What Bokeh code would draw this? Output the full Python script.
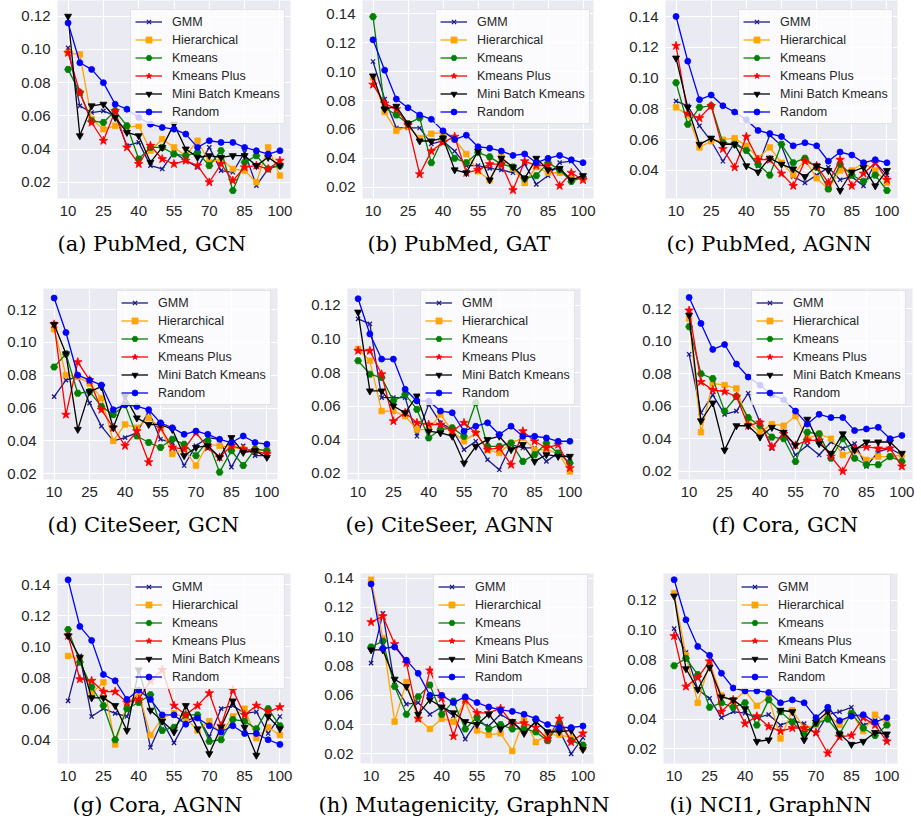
from bokeh.plotting import figure
from bokeh.models import Range1d, FixedTicker, NumeralTickFormatter, Legend, LegendItem
from bokeh.layouts import column, row
from bokeh.embed import file_html
from bokeh.resources import INLINE

# ---------------- data ----------------
X = list(range(10, 101, 5))
X_TICKS = [10, 25, 40, 55, 70, 85, 100]
Y_TICKS = [0.02, 0.04, 0.06, 0.08, 0.10, 0.12, 0.14]
SERIES = ["GMM", "Hierarchical", "Kmeans", "Kmeans Plus", "Mini Batch Kmeans", "Random"]
CAPTIONS = ["(a) PubMed, GCN", "(b) PubMed, GAT", "(c) PubMed, AGNN",
            "(d) CiteSeer, GCN", "(e) CiteSeer, AGNN", "(f) Cora, GCN",
            "(g) Cora, AGNN", "(h) Mutagenicity, GraphNN", "(i) NCI1, GraphNN"]

A_GMM = [0.101,0.066,0.062,0.063,0.060,0.042,0.044,0.030,0.028,0.038,0.033,0.029,0.041,0.027,0.026,0.038,0.018,0.028,0.031]
A_HIER = [0.098,0.097,0.058,0.052,0.054,0.053,0.054,0.039,0.046,0.041,0.036,0.045,0.032,0.034,0.028,0.027,0.020,0.041,0.024]
A_KM = [0.088,0.074,0.057,0.056,0.063,0.054,0.034,0.041,0.041,0.037,0.036,0.038,0.030,0.039,0.015,0.032,0.036,0.028,0.030]
A_KMP = [0.098,0.074,0.056,0.045,0.063,0.041,0.031,0.042,0.034,0.031,0.033,0.030,0.020,0.031,0.021,0.029,0.030,0.028,0.033]
A_MB = [0.120,0.048,0.066,0.067,0.059,0.050,0.048,0.032,0.041,0.055,0.040,0.035,0.036,0.035,0.036,0.036,0.030,0.035,0.030]
A_RND = [0.116,0.092,0.088,0.080,0.067,0.064,0.059,0.055,0.053,0.052,0.049,0.041,0.045,0.044,0.044,0.041,0.039,0.037,0.039]

B_GMM = [0.107,0.081,0.061,0.061,0.061,0.050,0.052,0.045,0.035,0.035,0.033,0.032,0.030,0.036,0.022,0.028,0.037,0.038,0.028]
B_HIER = [0.096,0.072,0.059,0.062,0.054,0.057,0.058,0.053,0.043,0.031,0.025,0.041,0.033,0.023,0.034,0.030,0.030,0.026,0.026]
B_KM = [0.138,0.075,0.070,0.064,0.068,0.037,0.054,0.040,0.037,0.044,0.041,0.036,0.034,0.026,0.028,0.037,0.032,0.024,0.027]
B_KMP = [0.091,0.078,0.074,0.063,0.029,0.045,0.051,0.055,0.030,0.032,0.036,0.036,0.018,0.038,0.035,0.035,0.021,0.030,0.025]
B_MB = [0.097,0.074,0.076,0.064,0.052,0.052,0.054,0.032,0.030,0.045,0.025,0.040,0.034,0.026,0.040,0.032,0.033,0.025,0.028]
B_RND = [0.122,0.101,0.081,0.075,0.070,0.067,0.059,0.053,0.056,0.048,0.047,0.045,0.042,0.043,0.037,0.040,0.042,0.039,0.037]

C_GMM = [0.085,0.082,0.069,0.059,0.046,0.058,0.053,0.043,0.063,0.056,0.036,0.032,0.037,0.042,0.034,0.036,0.030,0.045,0.037]
C_HIER = [0.081,0.076,0.055,0.059,0.060,0.061,0.056,0.048,0.055,0.045,0.037,0.047,0.035,0.028,0.040,0.040,0.045,0.040,0.032]
C_KM = [0.097,0.070,0.081,0.082,0.058,0.057,0.053,0.044,0.037,0.057,0.045,0.048,0.042,0.028,0.044,0.037,0.033,0.037,0.027]
C_KMP = [0.121,0.077,0.074,0.082,0.054,0.042,0.062,0.047,0.047,0.038,0.030,0.046,0.043,0.032,0.047,0.030,0.038,0.045,0.034]
C_MB = [0.113,0.081,0.057,0.061,0.057,0.057,0.043,0.039,0.048,0.044,0.041,0.036,0.043,0.040,0.027,0.039,0.042,0.030,0.040]
C_RND = [0.140,0.111,0.086,0.089,0.082,0.078,0.073,0.066,0.064,0.062,0.056,0.058,0.056,0.046,0.052,0.050,0.045,0.047,0.045]

D_GMM = [0.067,0.077,0.079,0.063,0.049,0.040,0.042,0.045,0.058,0.041,0.039,0.025,0.037,0.042,0.041,0.024,0.037,0.031,0.031]
D_HIER = [0.108,0.080,0.079,0.075,0.066,0.040,0.050,0.048,0.054,0.048,0.032,0.035,0.025,0.038,0.037,0.036,0.035,0.034,0.035]
D_KM = [0.085,0.093,0.069,0.070,0.061,0.056,0.062,0.043,0.039,0.036,0.041,0.038,0.031,0.040,0.021,0.034,0.025,0.035,0.034]
D_KMP = [0.111,0.056,0.088,0.077,0.059,0.048,0.037,0.046,0.027,0.048,0.036,0.035,0.045,0.036,0.030,0.037,0.035,0.034,0.032]
D_MB = [0.111,0.093,0.047,0.070,0.073,0.048,0.067,0.054,0.050,0.050,0.047,0.031,0.036,0.037,0.030,0.042,0.033,0.034,0.030]
D_RND = [0.127,0.106,0.080,0.077,0.074,0.059,0.062,0.061,0.059,0.051,0.048,0.044,0.046,0.044,0.041,0.039,0.043,0.039,0.038]

E_GMM = [0.112,0.109,0.065,0.065,0.065,0.042,0.061,0.050,0.046,0.034,0.039,0.028,0.022,0.037,0.035,0.035,0.027,0.032,0.029]
E_HIER = [0.094,0.087,0.057,0.057,0.054,0.046,0.046,0.055,0.045,0.039,0.044,0.034,0.032,0.038,0.041,0.034,0.034,0.032,0.021]
E_KM = [0.087,0.079,0.077,0.063,0.067,0.058,0.041,0.046,0.047,0.042,0.062,0.036,0.036,0.038,0.027,0.031,0.038,0.032,0.026]
E_KMP = [0.093,0.093,0.079,0.051,0.056,0.050,0.049,0.049,0.045,0.050,0.044,0.034,0.035,0.025,0.045,0.039,0.035,0.037,0.023]
E_MB = [0.116,0.069,0.069,0.060,0.056,0.066,0.045,0.044,0.042,0.026,0.036,0.040,0.042,0.034,0.037,0.027,0.031,0.030,0.030]
E_RND = [0.124,0.103,0.088,0.088,0.070,0.063,0.063,0.057,0.056,0.045,0.048,0.050,0.043,0.048,0.042,0.042,0.041,0.039,0.039]

F_GMM = [0.092,0.056,0.067,0.055,0.057,0.068,0.050,0.034,0.044,0.030,0.036,0.030,0.038,0.034,0.037,0.023,0.032,0.034,0.030]
F_HIER = [0.114,0.044,0.074,0.073,0.071,0.050,0.044,0.049,0.048,0.054,0.040,0.043,0.040,0.030,0.033,0.027,0.029,0.029,0.030]
F_KM = [0.109,0.080,0.077,0.057,0.066,0.053,0.048,0.041,0.040,0.026,0.044,0.043,0.028,0.040,0.028,0.024,0.024,0.029,0.026]
F_KMP = [0.119,0.075,0.070,0.069,0.066,0.048,0.050,0.035,0.043,0.036,0.039,0.039,0.029,0.020,0.034,0.035,0.034,0.034,0.023]
F_MB = [0.116,0.051,0.062,0.033,0.048,0.048,0.041,0.047,0.044,0.036,0.052,0.037,0.031,0.043,0.033,0.038,0.038,0.038,0.031]
F_RND = [0.127,0.111,0.095,0.098,0.086,0.078,0.073,0.067,0.064,0.057,0.049,0.055,0.053,0.053,0.045,0.046,0.047,0.040,0.042]

G_GMM = [0.065,0.094,0.055,0.060,0.057,0.055,0.072,0.035,0.052,0.038,0.052,0.055,0.042,0.060,0.062,0.057,0.058,0.044,0.055]
G_HIER = [0.094,0.092,0.070,0.077,0.037,0.063,0.070,0.043,0.054,0.057,0.054,0.046,0.052,0.044,0.055,0.060,0.041,0.048,0.043]
G_KM = [0.111,0.090,0.074,0.062,0.040,0.060,0.064,0.069,0.046,0.048,0.056,0.056,0.039,0.040,0.053,0.052,0.047,0.060,0.049]
G_KMP = [0.107,0.079,0.078,0.071,0.071,0.064,0.066,0.078,0.085,0.062,0.056,0.062,0.070,0.049,0.072,0.056,0.062,0.058,0.061]
G_MB = [0.107,0.093,0.067,0.067,0.062,0.046,0.085,0.059,0.052,0.045,0.062,0.047,0.031,0.048,0.065,0.048,0.030,0.055,0.047]
G_RND = [0.143,0.113,0.104,0.082,0.078,0.066,0.072,0.066,0.056,0.056,0.050,0.054,0.049,0.045,0.049,0.044,0.044,0.040,0.037]

H_GMM = [0.082,0.116,0.067,0.054,0.055,0.047,0.052,0.046,0.030,0.042,0.039,0.047,0.042,0.035,0.042,0.035,0.036,0.020,0.031]
H_HIER = [0.139,0.099,0.042,0.069,0.044,0.037,0.044,0.042,0.056,0.036,0.033,0.034,0.022,0.044,0.028,0.033,0.033,0.031,0.024]
H_KM = [0.093,0.097,0.066,0.047,0.059,0.067,0.047,0.056,0.037,0.045,0.037,0.040,0.037,0.037,0.035,0.029,0.041,0.029,0.026]
H_KMP = [0.110,0.114,0.095,0.082,0.044,0.077,0.058,0.032,0.057,0.048,0.048,0.051,0.041,0.041,0.038,0.030,0.044,0.028,0.034]
H_MB = [0.091,0.091,0.071,0.066,0.047,0.057,0.052,0.048,0.042,0.040,0.047,0.037,0.042,0.034,0.042,0.035,0.035,0.036,0.023]
H_RND = [0.136,0.092,0.093,0.084,0.075,0.060,0.060,0.055,0.059,0.055,0.052,0.050,0.049,0.047,0.044,0.040,0.038,0.038,0.039]

I_GMM = [0.101,0.085,0.060,0.054,0.041,0.045,0.044,0.041,0.043,0.036,0.039,0.037,0.030,0.043,0.045,0.048,0.036,0.039,0.027]
I_HIER = [0.125,0.083,0.051,0.078,0.056,0.052,0.059,0.049,0.055,0.027,0.046,0.034,0.036,0.043,0.036,0.044,0.032,0.043,0.037]
I_KM = [0.076,0.081,0.070,0.048,0.051,0.048,0.051,0.036,0.053,0.045,0.038,0.030,0.037,0.040,0.030,0.044,0.034,0.029,0.036]
I_KMP = [0.096,0.062,0.068,0.079,0.045,0.053,0.037,0.042,0.035,0.032,0.034,0.034,0.031,0.017,0.028,0.029,0.041,0.036,0.025]
I_MB = [0.123,0.074,0.060,0.075,0.055,0.053,0.047,0.025,0.026,0.046,0.045,0.026,0.038,0.045,0.030,0.023,0.025,0.031,0.030]
I_RND = [0.134,0.107,0.089,0.083,0.071,0.061,0.059,0.059,0.058,0.051,0.053,0.051,0.041,0.048,0.039,0.042,0.043,0.038,0.041]

PANEL_DATA = [
    [A_GMM, A_HIER, A_KM, A_KMP, A_MB, A_RND],
    [B_GMM, B_HIER, B_KM, B_KMP, B_MB, B_RND],
    [C_GMM, C_HIER, C_KM, C_KMP, C_MB, C_RND],
    [D_GMM, D_HIER, D_KM, D_KMP, D_MB, D_RND],
    [E_GMM, E_HIER, E_KM, E_KMP, E_MB, E_RND],
    [F_GMM, F_HIER, F_KM, F_KMP, F_MB, F_RND],
    [G_GMM, G_HIER, G_KM, G_KMP, G_MB, G_RND],
    [H_GMM, H_HIER, H_KM, H_KMP, H_MB, H_RND],
    [I_GMM, I_HIER, I_KM, I_KMP, I_MB, I_RND],
]

# ---------------- styles / layout ----------------
STYLE = [
    dict(color="#1a1a8c", marker="x", size=6),
    dict(color="#FFA500", marker="square", size=5.5),
    dict(color="#008000", marker="hex", size=7),
    dict(color="#FF0000", marker="star", size=9),
    dict(color="#000000", marker="inverted_triangle", size=7),
    dict(color="#0000FF", marker="circle", size=6),
]
# (left border, frame width, right border, y0, y1, caption left offset from frame left)
PANEL_GEOM = [
    (57, 233, 15, 0.0102, 0.1295, 0),
    (57, 231, 17, 0.0122, 0.1492, 5),
    (55, 232, 24, 0.0218, 0.1504, 1),
    (43, 234, 28, 0.0165, 0.1328, 4),
    (42, 233, 30, 0.0162, 0.1301, -2),
    (68, 234, 9, 0.0149, 0.1325, 33),
    (57, 233, 15, 0.0247, 0.1471, 15),
    (55, 233, 17, 0.0134, 0.1432, -42),
    (53, 234, 24, 0.0101, 0.1382, 6),
]
# (top border, frame height, bottom border, caption standoff) per row
ROW_GEOM = [(0, 198, 82, 22), (8, 191, 91, 22), (3, 190, 61, 15)]

SANS = "Liberation Sans"
TXT = "#262626"


def make_panel(i):
    left, fw, right, y0, y1, capoff = PANEL_GEOM[i]
    top, fh, bottom, standoff = ROW_GEOM[i // 3]
    p = figure(width=left + fw + right, height=top + fh + bottom,
               x_range=Range1d(5.5, 104.5), y_range=Range1d(y0, y1),
               output_backend="svg", toolbar_location=None,
               title=CAPTIONS[i], title_location="below",
               min_border_left=left, min_border_right=right,
               min_border_top=top, min_border_bottom=bottom)
    p.title.align = "left"
    p.title.offset = capoff
    p.title.standoff = standoff
    p.title.text_font = "DejaVu Serif"
    p.title.text_font_size = "21px"
    p.title.text_font_style = "normal"
    p.title.text_color = "black"
    p.background_fill_color = "#EAEAF2"
    p.border_fill_color = "white"
    p.outline_line_color = None
    p.xaxis.ticker = FixedTicker(ticks=X_TICKS)
    p.yaxis.ticker = FixedTicker(ticks=Y_TICKS)
    p.yaxis.formatter = NumeralTickFormatter(format="0.00")
    for ax in (p.xaxis, p.yaxis):
        ax.axis_line_color = None
        ax.major_tick_line_color = None
        ax.minor_tick_line_color = None
        ax.major_tick_out = 0
        ax.major_tick_in = 0
        ax.major_label_standoff = 7
        ax.major_label_text_font = SANS
        ax.major_label_text_font_size = "15px"
        ax.major_label_text_color = TXT
    p.grid.grid_line_color = "white"
    p.grid.grid_line_width = 1.1

    items = []
    for name, ys, st in zip(SERIES, PANEL_DATA[i], STYLE):
        ln = p.line(X, ys, line_color=st["color"], line_width=1.3)
        if st["marker"] == "x":
            mk = p.scatter(X, ys, marker="x", size=st["size"], line_color=st["color"], line_width=1.3)
        else:
            mk = p.scatter(X, ys, marker=st["marker"], size=st["size"],
                           fill_color=st["color"], line_color=st["color"], line_width=0.8)
        items.append(LegendItem(label=name, renderers=[ln, mk]))

    leg = Legend(items=items, location=(73, 74), margin=0, padding=4, spacing=3,
                 glyph_width=27, glyph_height=15, label_height=15, label_standoff=10,
                 label_text_font=SANS, label_text_font_size="12.5px", label_text_color=TXT,
                 background_fill_color="white", background_fill_alpha=0.8,
                 border_line_color="#cccccc", border_line_width=1)
    p.add_layout(leg)
    return p


panels = [make_panel(i) for i in range(9)]
layout = column(row(*panels[0:3]), row(*panels[3:6]), row(*panels[6:9]))

open("out.html", "w").write(file_html(layout, INLINE))
